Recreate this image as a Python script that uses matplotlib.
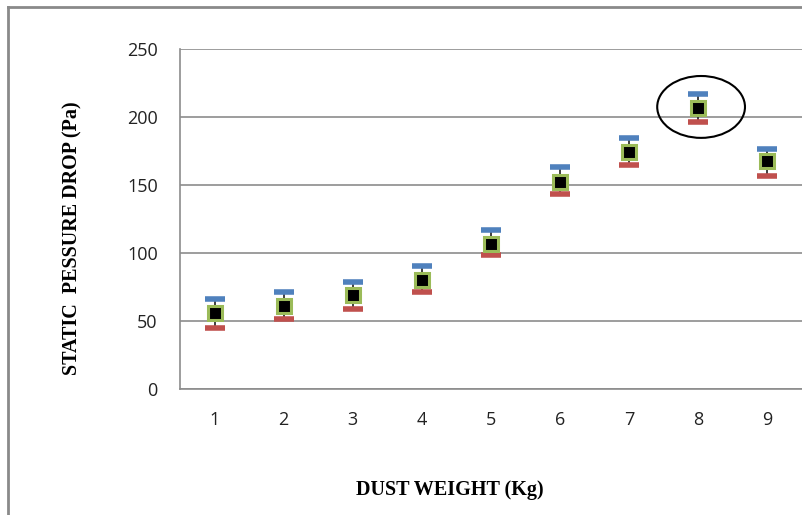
import matplotlib.pyplot as plt
from matplotlib.lines import Line2D
from matplotlib.patches import Ellipse

dust_weight = [1, 2, 3, 4, 5, 6, 7, 8, 9]
pressure_mean = [55.7, 61.0, 69.1, 80.0, 106.6, 152.4, 174.3, 206.4, 167.4]
pressure_high = [66.0, 71.1, 78.9, 90.4, 117.2, 163.0, 184.8, 216.9, 176.7]
pressure_low = [45.1, 51.2, 59.0, 71.0, 98.5, 143.2, 164.7, 196.6, 156.9]
highlight = 8

fig = plt.figure(figsize=(8.03, 5.15), dpi=100)
ax = fig.add_axes([180 / 803, 126 / 515, 622 / 803, 340 / 515])

# high-low lines
ax.vlines(dust_weight, pressure_low, pressure_high, color='#303030', lw=1.3, zorder=2)
ax.plot(dust_weight, pressure_high, ls='none', marker='_', ms=15, mew=4,
        color='#4F81BD', zorder=3)
ax.plot(dust_weight, pressure_low, ls='none', marker='_', ms=15, mew=4,
        color='#C0504D', zorder=3)
ax.plot(dust_weight, pressure_mean, ls='none', marker='s', ms=9.5, mew=2.2,
        mfc='black', mec='#9BBB59', zorder=4)

i = dust_weight.index(highlight)
ax.add_patch(Ellipse((highlight + 0.04, pressure_mean[i] + 1), 1.27, 45.5,
                     fill=False, ec='black', lw=1.5, zorder=5))

ax.set_xlim(0.5, 9.5)
ax.set_ylim(0, 250)
ax.set_xticks(dust_weight)
ax.set_yticks(range(0, 251, 50))
ax.yaxis.grid(True, color='#8c8c8c', lw=1.2)
ax.set_axisbelow(True)
for s in ['top', 'right']:
    ax.spines[s].set_visible(False)
for s in ['left', 'bottom']:
    ax.spines[s].set_color('#8c8c8c')
    ax.spines[s].set_linewidth(1.2)
ax.tick_params(length=0, labelsize=13, labelcolor='#222222')
ax.tick_params(axis='y', pad=16)
ax.tick_params(axis='x', pad=16)
for lab in ax.get_xticklabels() + ax.get_yticklabels():
    lab.set_family('Open Sans')

fig.text(450 / 803, 1 - 490 / 515, 'DUST WEIGHT (Kg)', ha='center', va='center',
         family='Liberation Serif', weight='bold', fontsize=14.5)
fig.text(72 / 803, 1 - 238 / 515, 'STATIC  PESSURE DROP (Pa)', ha='center', va='center',
         rotation=90, family='Liberation Serif', weight='bold', fontsize=14.5)

# outer chart frame
fig.add_artist(Line2D([8 / 803, 802 / 803], [1 - 7 / 515, 1 - 7 / 515],
                      transform=fig.transFigure, color='#8a8a8a', lw=2))
fig.add_artist(Line2D([8 / 803, 8 / 803], [0, 1 - 7 / 515],
                      transform=fig.transFigure, color='#8a8a8a', lw=2))

fig.savefig('out.png', dpi=100)
